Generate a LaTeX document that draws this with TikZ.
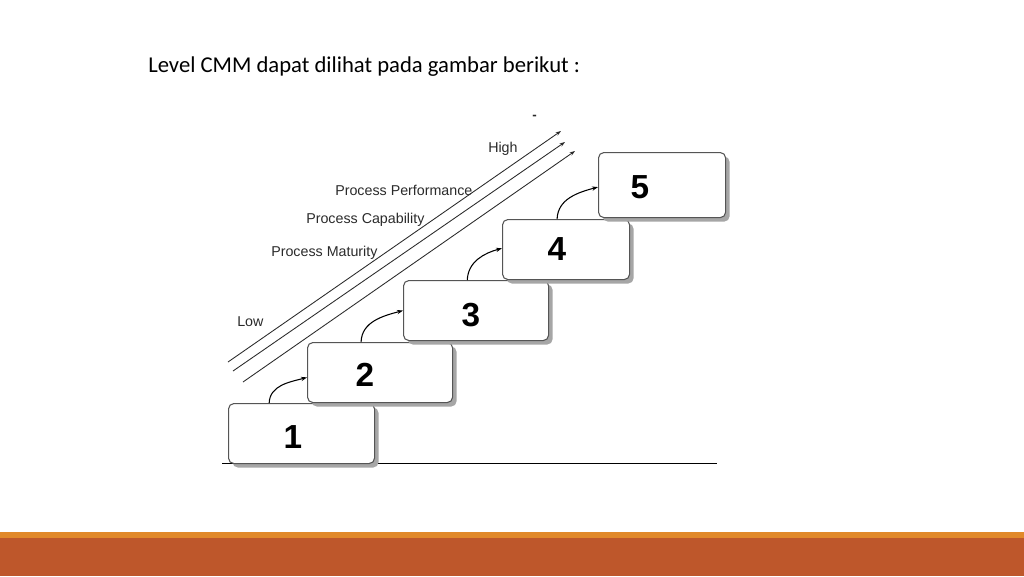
\documentclass[tikz,border=0pt]{standalone}
\usepackage{fontspec}
\setmainfont{Liberation Sans}
\newfontfamily\titlefont{Carlito}
\usetikzlibrary{shadows,calc,arrows.meta}
\definecolor{barorange}{HTML}{E1892A}
\definecolor{bardark}{HTML}{BE572B}
\definecolor{ink}{HTML}{2A2A2A}
\tikzset{
  stepbox/.style={draw=ink!80, line width=0.8pt, rounded corners=4pt, fill=white, anchor=north west, inner sep=0pt,
    drop shadow={shadow xshift=3pt, shadow yshift=-3pt, fill=gray!70, opacity=1}},
  numlabel/.style={font=\bfseries\fontsize{25}{25}\selectfont, text=black, inner sep=0pt},
  axislabel/.style={font=\fontsize{10.7}{12}\selectfont, text=ink, inner sep=0pt, anchor=base west},
  diag/.style={draw=ink, line width=0.65pt, -{Stealth[length=4pt,width=2.8pt]}},
  curvearrow/.style={draw=black, line width=0.8pt, -{Stealth[length=4.5pt,width=3.2pt]}}
}
\begin{document}
\begin{tikzpicture}[x=0.75pt,y=-0.75pt]
\useasboundingbox (0,0) rectangle (1024,576);
% bottom bars
\fill[bardark] (0,537) rectangle (1024,576);
\fill[barorange] (0,531.5) rectangle (1024,537.5);
% title
\node[font=\titlefont\fontsize{17}{20}\selectfont, anchor=base west, inner sep=0pt] (title) at (148,72) {Level CMM dapat dilihat pada gambar berikut :};
% ground line
\coordinate (g1) at (222,463.5);
\coordinate (g2) at (717,463.5);
\draw[line width=0.9pt, black] (g1) -- (g2);
% boxes
\node[stepbox, minimum width=109.5pt, minimum height=45pt] (b1) at (228,403) {};
\node[stepbox, minimum width=108.8pt, minimum height=45pt] (b2) at (307,342) {};
\node[stepbox, minimum width=108.8pt, minimum height=45pt] (b3) at (403,280) {};
\node[stepbox, minimum width=95.3pt, minimum height=45pt] (b4) at (502,219) {};
\node[stepbox, minimum width=95.3pt, minimum height=48.8pt] (b5) at (598,152) {};
% numbers
\node[numlabel] (n1) at (293,437) {1};
\node[numlabel] (n2) at (365,375) {2};
\node[numlabel] (n3) at (471,315) {3};
\node[numlabel] (n4) at (557,249) {4};
\node[numlabel] (n5) at (640,187) {5};
% curved arrows
\draw[curvearrow] ($(b1.north west)!0.28!(b1.north east)$) to[out=88,in=195] ($(b2.north west)!0.58!(b2.south west)$);
\draw[curvearrow] ($(b2.north west)!0.37!(b2.north east)$) to[out=88,in=195] ($(b3.north west)!0.50!(b3.south west)$);
\draw[curvearrow] ($(b3.north west)!0.44!(b3.north east)$) to[out=88,in=195] ($(b4.north west)!0.48!(b4.south west)$);
\draw[curvearrow] ($(b4.north west)!0.43!(b4.north east)$) to[out=88,in=195] ($(b5.north west)!0.53!(b5.south west)$);
% diagonal arrows
\coordinate (la) at (228,362);
\coordinate (ha) at (561,131);
\coordinate (lb) at (233,371);
\coordinate (hb) at (565,142);
\coordinate (lc) at (243,382);
\coordinate (hc) at (575,151);
\draw[diag] (la) -- (ha);
\draw[diag] (lb) -- (hb);
\draw[diag] (lc) -- (hc);
% labels
\node[axislabel] (high) at (488,152) {High};
\node[axislabel] (perf) at (335,195) {Process Performance};
\node[axislabel] (cap) at (306,223) {Process Capability};
\node[axislabel] (mat) at (271,256) {Process Maturity};
\node[axislabel] (low) at (237,326) {Low};
\node[axislabel, font=\bfseries\fontsize{10}{12}\selectfont] (dash) at (532,119) {-};
\end{tikzpicture}
\end{document}
